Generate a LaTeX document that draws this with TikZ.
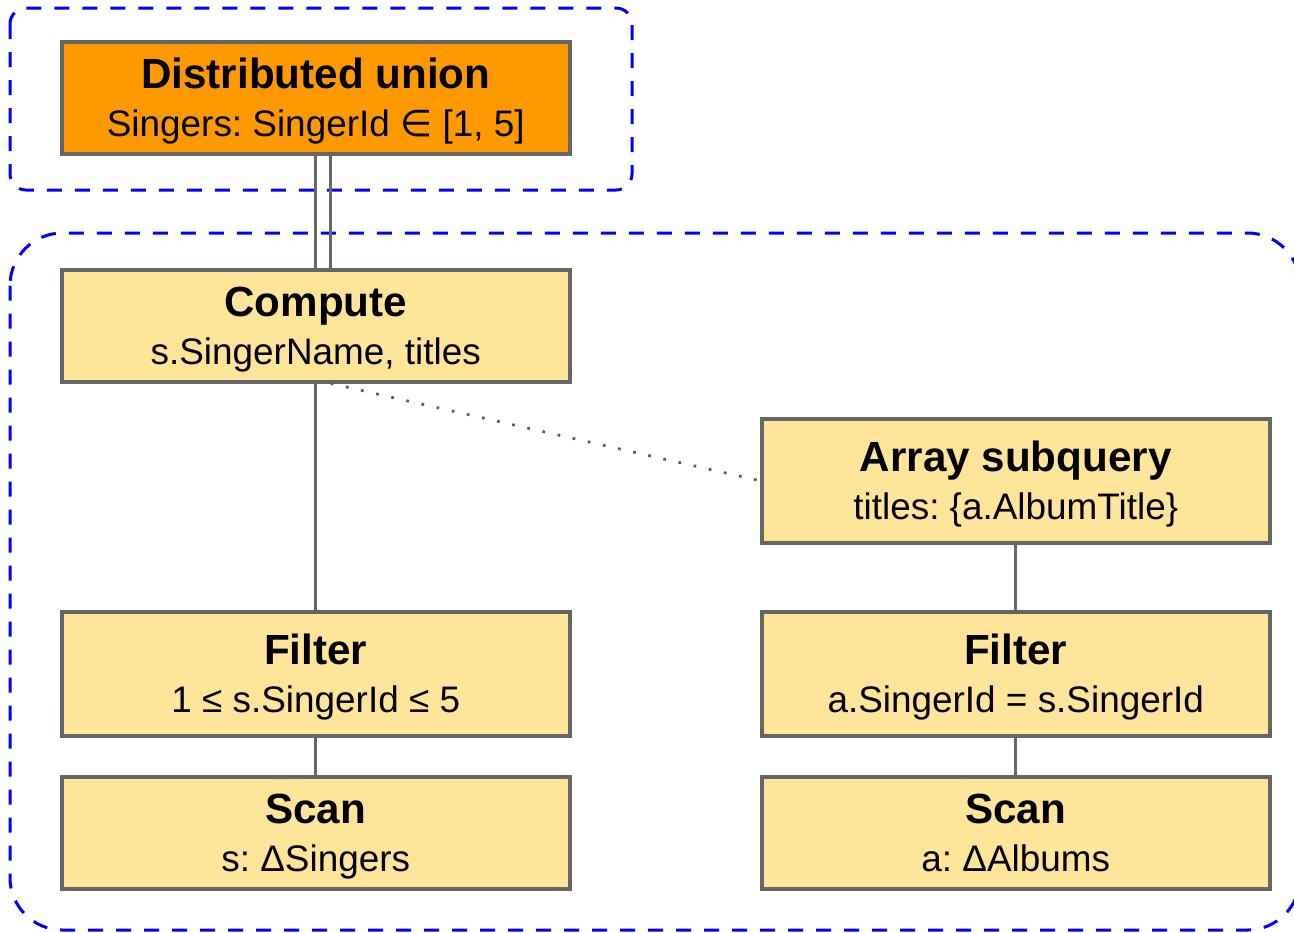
\documentclass[tikz,border=0pt]{standalone}
\usepackage{fontspec}
\setmainfont{Liberation Sans}
\newfontfamily\symfont{DejaVu Sans}
\frenchspacing
\usetikzlibrary{positioning}
\definecolor{qporange}{HTML}{FF9900}
\definecolor{qpyellow}{HTML}{FFE599}
\definecolor{qpgray}{HTML}{666666}
\definecolor{qpblue}{HTML}{0000FF}
\newcommand{\optitle}[1]{{\fontsize{24}{27.3}\selectfont\bfseries\rule{0pt}{7.6mm}#1}}
\newcommand{\opnote}[1]{#1\rule[-1.6mm]{0pt}{1.6mm}}
\tikzset{
  op/.style={rectangle, draw=qpgray, fill=qpyellow, line width=0.7mm,
             align=center, font=\fontsize{21}{27.3}\selectfont,
             minimum width=101.6mm, minimum height=22.4mm, inner sep=0pt,
             anchor=north west},
  opsplit/.style={op, fill=qporange},
  tall/.style={minimum height=24.8mm},
  link/.style={draw=qpgray, line width=0.6mm},
  corr/.style={draw=qpgray!90!black, line width=0.55mm, dash pattern=on 0.55mm off 2.55mm},
  zone/.style={draw=qpblue, line width=0.6mm, dash pattern=on 3mm off 2.6mm},
}

\begin{document}
\begin{tikzpicture}[x=1mm,y=1mm]
\useasboundingbox (0,0) rectangle (258.8,-186.4);
\clip (0,0) rectangle (258.8,-186.4);

% column x-origins
\def\ca{12}\def\cb{152}

% ---------- execution zones ----------
\draw[zone,rounded corners=3.2mm] (2,-1.6) rectangle (126.4,-38);
\draw[zone,rounded corners=10.5mm] (2,-46.6) rectangle (260,-186);

% ---------- root ----------
\node[opsplit] (du) at (\ca,-8)
  {\optitle{Distributed union}\\\opnote{Singers: SingerId {\symfont ∈} [1, 5]}};

% ---------- left column ----------
\node[op] (cmp) at (\ca,-53.6)
  {\optitle{Compute}\\\opnote{s.SingerName, titles}};
\node[op,tall] (fl) at (\ca,-122)
  {\optitle{Filter}\\\opnote{1 ≤ s.SingerId ≤ 5}};
\node[op] (sl) at (\ca,-155)
  {\optitle{Scan}\\\opnote{s: Δ{}Singers}};

% ---------- right column ----------
\node[op,tall] (arr) at (\cb,-83.4)
  {\optitle{Array subquery}\\\opnote{titles: \{a.AlbumTitle\}}};
\node[op,tall] (fr) at (\cb,-122)
  {\optitle{Filter}\\\opnote{a.SingerId = s.SingerId}};
\node[op] (sr) at (\cb,-155)
  {\optitle{Scan}\\\opnote{a: Δ{}Albums}};

% ---------- connectors ----------
\draw[link] (du.south) -- (cmp.north);
\draw[link] ([xshift=3mm]du.south) -- ([xshift=3mm]cmp.north);
\draw[link] (cmp.south) -- (fl.north);
\draw[link] (fl.south) -- (sl.north);
\draw[corr] ([xshift=3mm]cmp.south) -- (arr.west);
\draw[link] (arr.south) -- (fr.north);
\draw[link] (fr.south) -- (sr.north);
\end{tikzpicture}
\end{document}
